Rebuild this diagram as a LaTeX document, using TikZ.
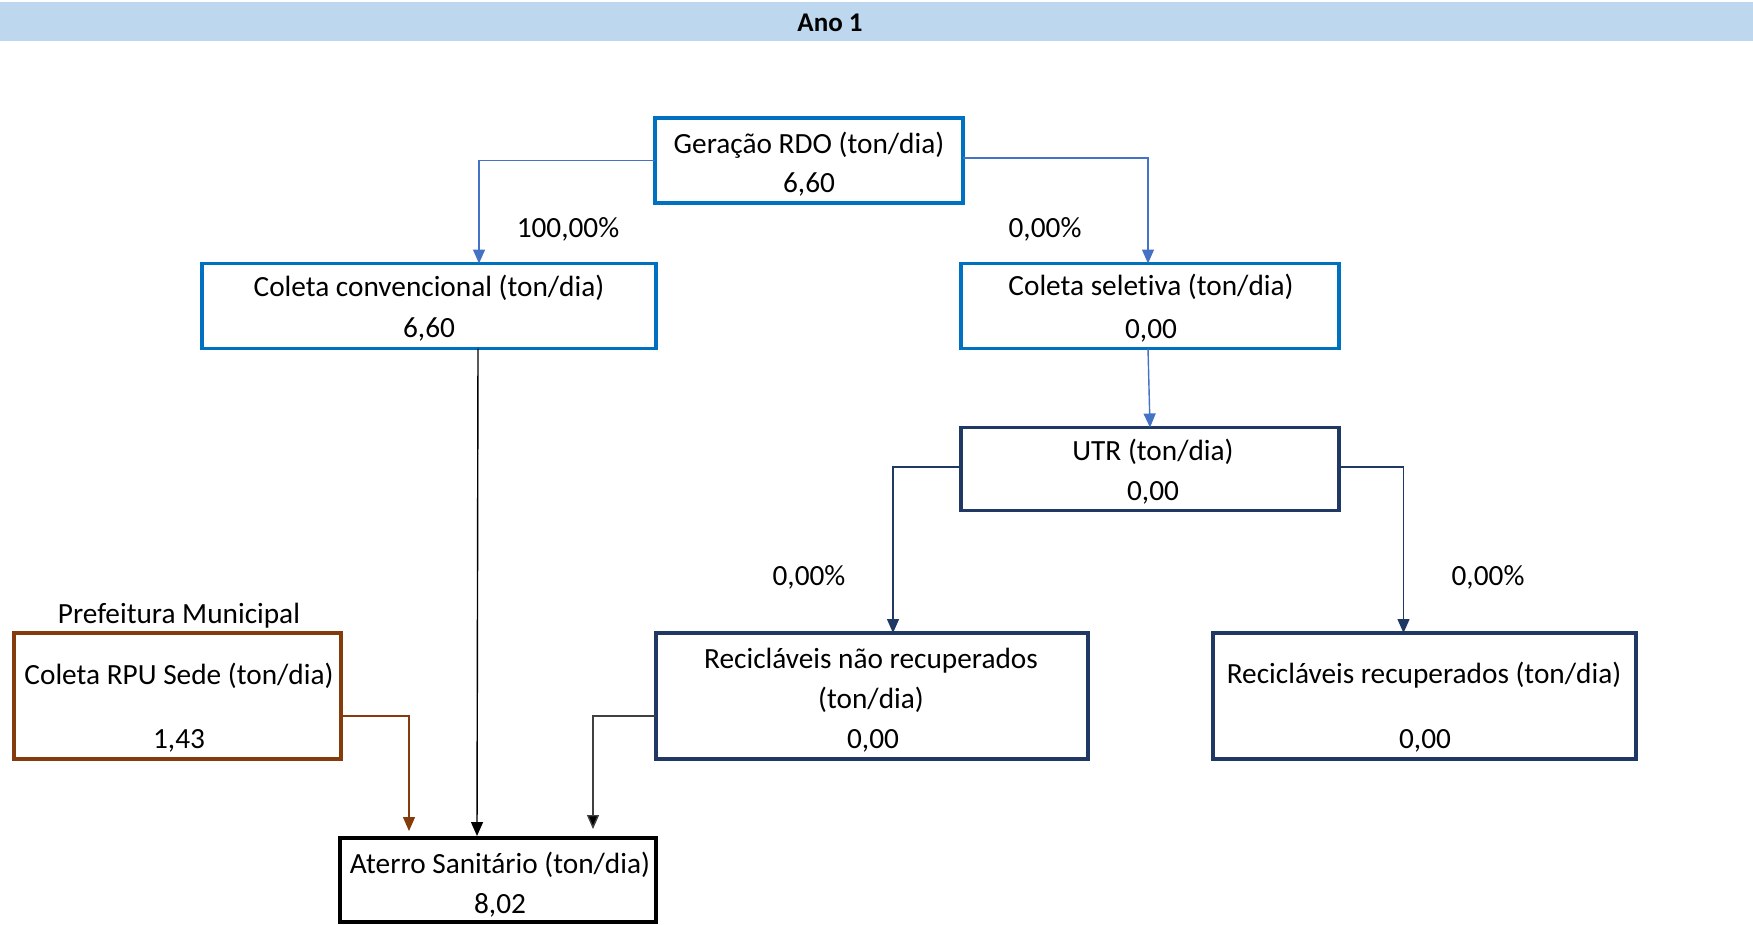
\documentclass[tikz,border=0pt]{standalone}
\usepackage{fontspec}
\setmainfont{Carlito}[Ligatures=NoCommon]
\usetikzlibrary{arrows.meta,calc}
\definecolor{bandblue}{HTML}{BDD7EE}
\definecolor{boxblue}{HTML}{0070C0}
\definecolor{flowblue}{HTML}{4472C4}
\definecolor{navy}{HTML}{203864}
\definecolor{rpubrown}{HTML}{843C0C}
\definecolor{darkgray}{HTML}{404040}
\begin{document}
\begin{tikzpicture}[x=1pt,y=-1pt,
  every node/.style={inner sep=0pt,outer sep=0pt},
  txt/.style={anchor=base,font=\fontsize{29.3}{35}\selectfont},
  box/.style={draw,line width=3.4pt,fill=white},
  bluebox/.style={box,draw=boxblue},
  navybox/.style={box,draw=navy},
  brownbox/.style={box,draw=rpubrown},
  blackbox/.style={box,draw=black,line width=3.8pt},
  flow/.style={line width=1.4pt,-{Triangle[length=14pt,width=12pt]}},
]
\useasboundingbox (0,0) rectangle (1753,924);
% header band
\fill[bandblue] (0,2) rectangle (1753,41);
\node[anchor=base,font=\fontsize{27}{32}\selectfont\bfseries] (title) at (830,31) {Ano 1};

% boxes
\node[bluebox,minimum width=308pt,minimum height=85pt] (gen) at (809,160.5) {};
\node[bluebox,minimum width=454pt,minimum height=85pt] (conv) at (429,306) {};
\node[bluebox,minimum width=378pt,minimum height=85pt] (sel) at (1150,306) {};
\node[navybox,minimum width=378pt,minimum height=83pt] (utr) at (1150,469) {};
\node[navybox,minimum width=432pt,minimum height=126pt] (nao) at (872,696) {};
\node[navybox,minimum width=423pt,minimum height=126pt] (rec) at (1424.5,696) {};
\node[brownbox,minimum width=327pt,minimum height=126pt] (rpu) at (177.5,696) {};
\node[blackbox,minimum width=316pt,minimum height=84pt] (ater) at (498,880) {};

% box texts
\node[txt] (genA) at (809,153) {Geração RDO (ton/dia)};
\node[txt] (genB) at (809,192) {6,60};
\node[txt] (convA) at (429,296) {Coleta convencional (ton/dia)};
\node[txt] (convB) at (429,337) {6,60};
\node[txt] (selA) at (1151,295) {Coleta seletiva (ton/dia)};
\node[txt] (selB) at (1151,338) {0,00};
\node[txt] (utrA) at (1153,460) {UTR (ton/dia)};
\node[txt] (utrB) at (1153,500) {0,00};
\node[txt] (naoA) at (871,668) {Recicláveis não recuperados};
\node[txt] (naoB) at (871,708) {(ton/dia)};
\node[txt] (naoC) at (873,748) {0,00};
\node[txt] (recA) at (1424,683) {Recicláveis recuperados (ton/dia)};
\node[txt] (recB) at (1425,748) {0,00};
\node[txt] (pref) at (179,623) {Prefeitura Municipal};
\node[txt] (rpuA) at (179,684) {Coleta RPU Sede (ton/dia)};
\node[txt] (rpuB) at (179,748) {1,43};
\node[txt] (aterA) at (500,873) {Aterro Sanitário (ton/dia)};
\node[txt] (aterB) at (500,913) {8,02};

% percentages
\node[txt] (p1) at (568,237) {100,00\%};
\node[txt] (p2) at (1045,237) {0,00\%};
\node[txt] (p3) at (809,585) {0,00\%};
\node[txt] (p4) at (1488,585) {0,00\%};

% connectors
\draw[flow,draw=flowblue] (gen.west) -| ([xshift=50pt]conv.north);
\draw[flow,draw=flowblue] ([yshift=2.5pt]gen.east) -| ([xshift=-2pt]sel.north);
\draw[flow,draw=flowblue] ([xshift=-2pt]sel.south) -- (utr.north);
\draw[flow,draw=navy] ([yshift=2pt]utr.west) -| ([xshift=21pt]nao.north);
\draw[flow,draw=navy] ([yshift=2pt]utr.east) -| ([xshift=-21pt]rec.north);
\draw[flow,draw=black] ([xshift=49pt]conv.south) -- ([xshift=-21pt,yshift=2pt]ater.north);
\draw[flow,draw=rpubrown] ([yshift=-20pt]rpu.east) -| ([xshift=-89pt,yshift=7pt]ater.north);
\draw[flow,draw=darkgray,-{Triangle[length=14pt,width=12pt,fill=black]}] ([yshift=-20pt]nao.west) -| ([xshift=95pt,yshift=9pt]ater.north);
\end{tikzpicture}
\end{document}
